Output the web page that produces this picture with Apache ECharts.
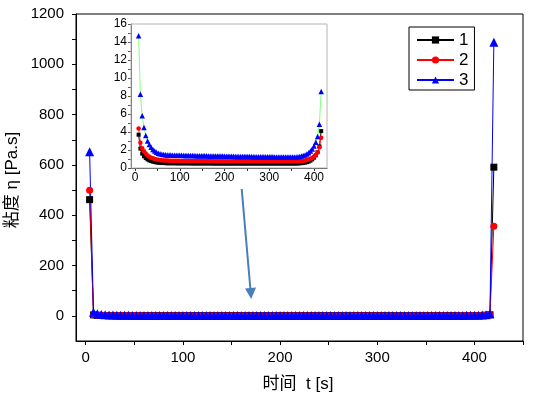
<!DOCTYPE html>
<html>
<head>
<meta charset="utf-8">
<script src="https://cdn.jsdelivr.net/npm/echarts@6/dist/echarts.min.js"></script>
<style>
  html, body { margin: 0; padding: 0; background: #fff; }
  #chart { width: 533px; height: 398px; }
</style>
</head>
<body>
<div id="chart"></div>
<script>
// 时间 t [s]
var times = [4,8,12,16,20,24,28,32,36,40,44,48,52,56,60,64,68,72,76,80,84,88,92,96,100,
  104,108,112,116,120,124,128,132,136,140,144,148,152,156,160,164,168,172,176,180,184,188,192,196,200,
  204,208,212,216,220,224,228,232,236,240,244,248,252,256,260,264,268,272,276,280,284,288,292,296,300,
  304,308,312,316,320,324,328,332,336,340,344,348,352,356,360,364,368,372,376,380,384,388,392,396,400,
  404,408,412,416,420];

// 粘度 η [Pa.s]
var visc1 = [462, 3.7, 2.15, 1.6, 1.3, 1.1, 0.95, 0.85, 0.77, 0.71, 0.66, 0.62, 0.6, 0.58, 0.56, 0.55, 0.54, 0.53,
  0.53,0.53,0.53,0.53,0.52,0.52,0.52,0.52,0.52,0.52,
  0.52,0.52,0.51,0.51,0.51,0.51,0.51,0.51,0.51,0.51,
  0.51,0.51,0.51,0.51,0.51,0.50,0.50,0.50,0.50,0.50,
  0.50,0.50,0.50,0.50,0.50,0.50,0.50,0.50,0.50,0.50,
  0.50,0.50,0.50,0.50,0.50,0.50,0.50,0.50,0.50,0.50,
  0.50,0.50,0.50,0.50,0.50,0.50,0.50,0.50,0.50,0.50,
  0.50,0.50,0.50,0.50,0.50,0.50,0.50,0.50,0.50,0.50,
  0.50,
  0.5, 0.51, 0.52, 0.54, 0.56, 0.6, 0.65, 0.72, 0.82, 0.96, 1.15, 1.4, 1.75, 2.4, 4.1, 591];

var visc2 = [499, 4.4, 2.8, 2.2, 1.85, 1.6, 1.4, 1.25, 1.15, 1.07, 1.0, 0.95, 0.91, 0.88, 0.86, 0.84, 0.83, 0.82,
  0.81,0.81,0.81,0.80,0.80,0.80,0.80,0.79,0.79,0.79,
  0.79,0.79,0.78,0.78,0.78,0.78,0.78,0.78,0.77,0.77,
  0.77,0.77,0.77,0.77,0.77,0.76,0.76,0.76,0.76,0.76,
  0.76,0.76,0.76,0.75,0.75,0.75,0.75,0.75,0.75,0.75,
  0.75,0.75,0.75,0.75,0.74,0.74,0.74,0.74,0.74,0.74,
  0.74,0.74,0.74,0.74,0.74,0.74,0.74,0.74,0.74,0.74,
  0.74,0.74,0.74,0.74,0.74,0.74,0.74,0.74,0.74,0.74,
  0.74,
  0.74, 0.75, 0.76, 0.78, 0.8, 0.84, 0.88, 0.94, 1.02, 1.12, 1.27, 1.48, 1.75, 2.3, 3.35, 356];

var visc3 = [652, 14.7, 8.2, 5.8, 4.5, 3.6, 3.0, 2.6, 2.3, 2.05, 1.88, 1.75, 1.65, 1.58, 1.53, 1.5, 1.47, 1.45,
  1.44,1.44,1.43,1.43,1.42,1.42,1.41,1.41,1.40,1.40,
  1.39,1.39,1.38,1.38,1.38,1.37,1.37,1.36,1.36,1.36,
  1.35,1.35,1.34,1.34,1.34,1.33,1.33,1.33,1.32,1.32,
  1.32,1.31,1.31,1.31,1.30,1.30,1.30,1.29,1.29,1.29,
  1.28,1.28,1.28,1.27,1.27,1.27,1.27,1.26,1.26,1.26,
  1.26,1.25,1.25,1.25,1.25,1.24,1.24,1.24,1.24,1.23,
  1.23,1.23,1.23,1.23,1.22,1.22,1.22,1.22,1.22,1.22,
  1.22,
  1.22, 1.24, 1.27, 1.32, 1.38, 1.45, 1.55, 1.7, 1.9, 2.1, 2.44, 2.85, 3.5, 4.85, 8.5, 1088];

var seriesNames = ['1', '2', '3'];

var mainXTicks = [0, 50, 100, 150, 200, 250, 300, 350, 400, 450];
var mainXLabels = [0, 100, 200, 300, 400];
var mainYTicks = [0, 100, 200, 300, 400, 500, 600, 700, 800, 900, 1000, 1100, 1200];
var mainYLabels = [0, 200, 400, 600, 800, 1000, 1200];
var insetXTicks = [0, 50, 100, 150, 200, 250, 300, 350, 400];
var insetXLabels = [0, 100, 200, 300, 400];
var insetYTicks = [0, 1, 2, 3, 4, 5, 6, 7, 8, 9, 10, 11, 12, 13, 14, 15, 16];
var insetYLabels = [0, 2, 4, 6, 8, 10, 12, 14, 16];

function pairs(vals) {
  return times.map(function (t, i) { return [t, vals[i]]; });
}
// inset leaves out the two spikes at the ends
function innerPairs(vals) {
  return pairs(vals).slice(1, -1);
}
function plain(v) { return String(v); }

var font = "'Liberation Sans', Arial, 'Noto Sans CJK SC', sans-serif";

var myChart = echarts.init(document.getElementById('chart'), null, { renderer: 'canvas' });

var opt = {
  animation: false,
  backgroundColor: '#fff',
  textStyle: { fontFamily: font, color: '#000' },
  legend: {
    data: seriesNames,
    orient: 'vertical',
    left: 409,
    top: 27,
    padding: [4, 6, 1, 7],
    itemWidth: 37,
    itemHeight: 9,
    itemGap: 2,
    borderColor: '#000',
    borderWidth: 1,
    textStyle: { fontSize: 17, color: '#000', fontFamily: font, lineHeight: 18 }
  },
  grid: [
    { left: 76, top: 14, width: 447, height: 327, show: true, borderColor: '#000', borderWidth: 1 },
    { left: 131, top: 24, width: 196, height: 144, show: true, borderColor: '#b4b4b4', borderWidth: 1, z: 10 }
  ],
  xAxis: [
    {
      gridIndex: 0, type: 'value', min: -10, max: 450,
      axisLine: { onZero: false, lineStyle: { color: '#000', width: 1 } },
      axisTick: { customValues: mainXTicks, length: 4, lineStyle: { color: '#000' } },
      axisLabel: { customValues: mainXLabels, formatter: plain, fontSize: 15, color: '#000', margin: 9, fontFamily: font },
      splitLine: { show: false }
    },
    {
      gridIndex: 1, type: 'value', min: -9, max: 429,
      axisLine: { onZero: false, lineStyle: { color: '#333', width: 1 } },
      axisTick: { customValues: insetXTicks, length: 3, lineStyle: { color: '#333' } },
      axisLabel: { customValues: insetXLabels, formatter: plain, fontSize: 12, color: '#000', margin: 4, fontFamily: font },
      splitLine: { show: false }
    }
  ],
  yAxis: [
    {
      gridIndex: 0, type: 'value', min: -100, max: 1200,
      axisLine: { show: true, onZero: false, lineStyle: { color: '#000', width: 1 } },
      axisTick: { show: true, customValues: mainYTicks, length: 4, lineStyle: { color: '#000' } },
      axisLabel: { customValues: mainYLabels, formatter: plain, fontSize: 15, color: '#000', margin: 12, fontFamily: font },
      splitLine: { show: false }
    },
    {
      gridIndex: 1, type: 'value', min: 0, max: 16,
      axisLine: { show: true, onZero: false, lineStyle: { color: '#555', width: 1 } },
      axisTick: { show: true, customValues: insetYTicks, length: 3, lineStyle: { color: '#555' } },
      axisLabel: { customValues: insetYLabels, formatter: plain, fontSize: 12, color: '#000', margin: 4, fontFamily: font },
      splitLine: { show: false }
    }
  ],
  series: [
    {
      name: '1', type: 'line', xAxisIndex: 0, yAxisIndex: 0,
      symbol: 'rect', symbolSize: 7, showAllSymbol: true,
      itemStyle: { color: '#000' }, lineStyle: { color: '#000', width: 1 },
      data: pairs(visc1)
    },
    {
      name: '2', type: 'line', xAxisIndex: 0, yAxisIndex: 0,
      symbol: 'circle', symbolSize: 7, showAllSymbol: true,
      itemStyle: { color: '#ff0000' }, lineStyle: { color: '#ff0000', width: 1 },
      data: pairs(visc2)
    },
    {
      name: '3', type: 'line', xAxisIndex: 0, yAxisIndex: 0,
      symbol: 'triangle', symbolSize: 9, showAllSymbol: true,
      itemStyle: { color: '#0000ff' }, lineStyle: { color: '#0000ff', width: 1 },
      data: pairs(visc3)
    },
    {
      name: 'inset1', type: 'line', xAxisIndex: 1, yAxisIndex: 1, z: 11,
      symbol: 'rect', symbolSize: 4, showAllSymbol: true,
      itemStyle: { color: '#000' }, lineStyle: { color: '#000', width: 1 },
      data: innerPairs(visc1)
    },
    {
      name: 'inset2', type: 'line', xAxisIndex: 1, yAxisIndex: 1, z: 11,
      symbol: 'circle', symbolSize: 4.5, showAllSymbol: true,
      itemStyle: { color: '#ff0000' }, lineStyle: { color: '#ff3030', width: 1 },
      data: innerPairs(visc2)
    },
    {
      name: 'inset3', type: 'line', xAxisIndex: 1, yAxisIndex: 1, z: 11,
      symbol: 'triangle', symbolSize: 5.5, showAllSymbol: true,
      itemStyle: { color: '#0000ff' }, lineStyle: { color: '#80ff80', width: 1 },
      data: innerPairs(visc3)
    }
  ],
  graphic: [
    {
      type: 'text', x: 12, y: 180, rotation: Math.PI / 2,
      style: { text: '粘度 η [Pa.s]', font: '17px ' + font, fill: '#000', align: 'center', verticalAlign: 'middle' }
    },
    {
      type: 'text', x: 298, y: 384,
      style: { text: '时间  t [s]', font: '17px ' + font, fill: '#000', align: 'center', verticalAlign: 'middle' }
    },
    // arrow pointing from the inset to the plateau
    {
      type: 'line', z: 20,
      shape: { x1: 241.7, y1: 189, x2: 250.4, y2: 289 },
      style: { stroke: '#4a7ebb', lineWidth: 2 }
    },
    {
      type: 'polygon', z: 20,
      shape: { points: [[251.2, 299], [256, 287.6], [245, 288.6]] },
      style: { fill: '#4a7ebb' }
    }
  ]
};

myChart.setOption(opt);
</script>
</body>
</html>
